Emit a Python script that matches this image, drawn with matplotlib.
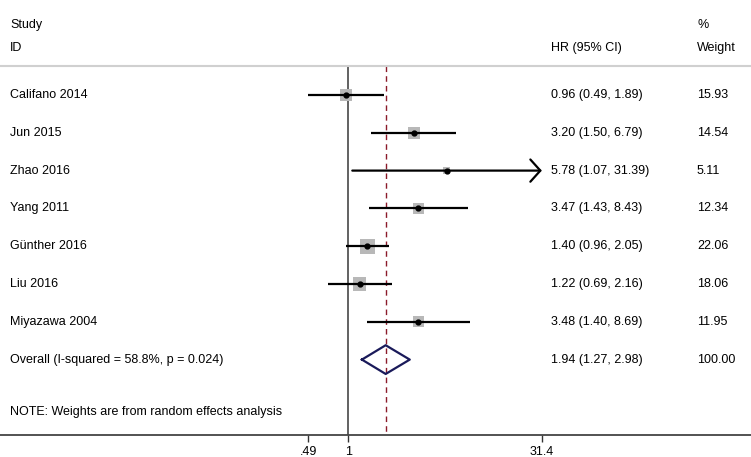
import numpy as np
import matplotlib
matplotlib.use("Agg")
import matplotlib.pyplot as plt
from matplotlib.transforms import blended_transform_factory
from matplotlib.patches import FancyArrowPatch

plt.rcParams['font.family'] = ['Liberation Sans', 'DejaVu Sans']

studies = ["Califano 2014", "Jun 2015", "Zhao 2016", "Yang 2011",
           "Günther 2016", "Liu 2016", "Miyazawa 2004"]
hr = [0.96, 3.20, 5.78, 3.47, 1.40, 1.22, 3.48]
lower = [0.49, 1.50, 1.07, 1.43, 0.96, 0.69, 1.40]
upper = [1.89, 6.79, 31.39, 8.43, 2.05, 2.16, 8.69]
weights = [15.93, 14.54, 5.11, 12.34, 22.06, 18.06, 11.95]
ci_arrow = [False, False, True, False, False, False, False]
overall_label = "Overall (I-squared = 58.8%, p = 0.024)"
overall = (1.94, 1.27, 2.98)
overall_weight = "100.00"
tick_vals = [0.49, 1, 31.4]
tick_labels = [".49", "1", "31.4"]
note = "NOTE: Weights are from random effects analysis"

W, H = 751, 457
fig = plt.figure(figsize=(W / 100, H / 100), dpi=100)
axis_px = 435
ax = fig.add_axes([0, (H - axis_px) / H, 1, axis_px / H])

# x: log scale; pixel = 348.5 + 56.1*ln(v)
x0, k = 348.5, 56.1
ax.set_xscale('log')
ax.set_xlim(np.exp(-x0 / k), np.exp((W - x0) / k))
# y: row index; row 0 at pixel 95, spacing 37.8
r0, dr = 95.0, 37.8
ax.set_ylim((axis_px - r0) / dr, -r0 / dr)

for s in ['top', 'left', 'right']:
    ax.spines[s].set_visible(False)
ax.spines['bottom'].set_color('#444444')
ax.spines['bottom'].set_linewidth(1.3)
ax.set_yticks([])
ax.set_xticks(tick_vals)
ax.set_xticklabels(tick_labels)
ax.minorticks_off()
ax.tick_params(axis='x', direction='out', length=5, width=1, color='#333333',
               labelsize=9, pad=3)

trans = blended_transform_factory(ax.transAxes, ax.transData)
fs = 9

# header
hdr_study = (25 - r0) / dr
hdr_id = (48 - r0) / dr
sep = (66 - r0) / dr
ax.text(10 / W, hdr_study, "Study", transform=trans, fontsize=fs, va='center')
ax.text(10 / W, hdr_id, "ID", transform=trans, fontsize=fs, va='center')
ax.text(551 / W, hdr_id, "HR (95% CI)", transform=trans, fontsize=fs, va='center')
ax.text(697 / W, hdr_study, "%", transform=trans, fontsize=fs, va='center')
ax.text(697 / W, hdr_id, "Weight", transform=trans, fontsize=fs, va='center')
ax.plot([0, 1], [sep, sep], transform=trans, color='#d0d0d0', lw=1.5,
        clip_on=False)

ybot = (axis_px - r0) / dr
# reference lines
ax.plot([1, 1], [sep, ybot], color='#555555', lw=1.3, zorder=1)
ax.plot([overall[0], overall[0]], [sep, ybot], color='#8b1a2a', lw=1.0,
        dashes=(4, 3), zorder=1)

rows = np.arange(len(studies))
ax.scatter(hr, rows, marker='s', s=[5.06 * w for w in weights],
           color='#b8b8b8', zorder=2, linewidths=0)
for i in rows:
    if ci_arrow[i]:
        arr = FancyArrowPatch((lower[i], i), (upper[i], i),
                              arrowstyle='->,head_length=0.45,head_width=0.5',
                              mutation_scale=16, color='black', lw=1.6,
                              shrinkA=0, shrinkB=0, transform=ax.transData,
                              zorder=3)
        ax.add_patch(arr)
    else:
        ax.plot([lower[i], upper[i]], [i, i], color='black', lw=1.6, zorder=3,
                solid_capstyle='butt')
    ax.text(10 / W, i, studies[i], transform=trans, fontsize=fs, va='center')
    ax.text(551 / W, i, f"{hr[i]:.2f} ({lower[i]:.2f}, {upper[i]:.2f})",
            transform=trans, fontsize=fs, va='center')
    ax.text(697 / W, i, f"{weights[i]:.2f}", transform=trans, fontsize=fs,
            va='center')
ax.plot(hr, rows, 'o', color='black', ms=3.5, zorder=4)

# overall diamond
yo = len(studies)
hh = 0.38
ax.plot([overall[1], overall[0], overall[2], overall[0], overall[1]],
        [yo, yo - hh, yo, yo + hh, yo], color='#1a1a5a', lw=1.6, zorder=3)
ax.text(10 / W, yo, overall_label, transform=trans, fontsize=fs, va='center')
ax.text(551 / W, yo, f"{overall[0]:.2f} ({overall[1]:.2f}, {overall[2]:.2f})",
        transform=trans, fontsize=fs, va='center')
ax.text(697 / W, yo, overall_weight, transform=trans, fontsize=fs, va='center')

ax.text(10 / W, (412 - r0) / dr, note, transform=trans, fontsize=fs,
        va='center')

fig.savefig("out.png", dpi=100)
